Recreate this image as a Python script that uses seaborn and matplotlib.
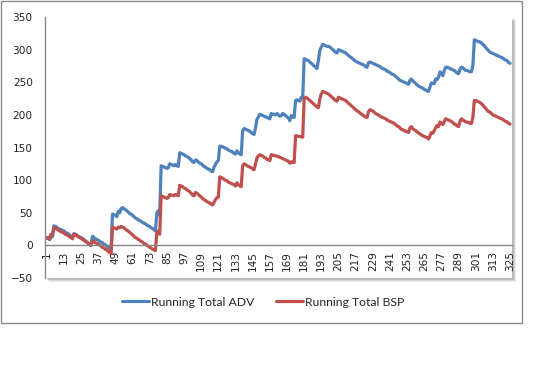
import matplotlib
matplotlib.use('Agg')
import matplotlib.pyplot as plt
from matplotlib.patches import Rectangle
import seaborn as sns
import pandas as pd

# running totals, one value per race (1..325)
adv_total = [
    12, 11, 9, 15, 13, 30, 29, 28, 26, 25, 24, 23, 22, 20, 19, 18, 16, 14, 12, 18,
    17, 16, 14, 13, 12, 10, 9, 7, 5, 3, 1, 0, 14, 12, 10, 9, 8, 6, 5, 4,
    2, 1, -1, -3, -5, -6,
    48, 47, 46, 44, 52, 50, 56, 58, 56, 55, 53, 51, 49, 48, 46, 44, 42, 41, 39, 38,
    37, 35, 34, 33, 31, 30, 29, 27, 26, 24, 22, 50, 53, 46, 122,
    121, 120, 119, 118, 119, 125, 124, 123, 122, 124, 122, 121, 142, 141, 140, 139, 137, 136, 135, 133,
    131, 128, 127, 131, 130, 128, 126, 125, 123, 121, 120, 118, 117, 116, 114, 113, 120, 124, 128, 130,
    152, 152, 151, 150, 149, 148, 146, 145, 144, 143, 141, 140, 145, 142, 140, 139, 176, 179, 178, 177,
    176, 175, 173, 171, 170, 180, 193, 197, 201, 200, 199, 198, 197, 196, 195, 194, 202, 201, 201, 200,
    202, 200, 198, 199, 202, 201, 199, 197, 195, 191, 199, 197, 196, 222, 223, 222, 221, 227, 226,
    286, 285, 284, 283, 281, 279, 277, 275, 273, 271, 284, 299, 304, 308, 307, 306, 305, 305, 304, 302,
    300, 298, 296, 295, 300, 299, 298, 297, 296, 295, 293, 291, 289, 288, 286, 284, 282, 281, 280, 279,
    278, 277, 276, 274, 273, 280, 281, 280, 279, 278, 277, 276, 275, 274, 272, 271, 270, 269, 267, 266,
    265, 263, 262, 261, 259, 257, 255, 253, 252, 251, 250, 249, 248, 247, 253, 255, 252, 250, 248, 246,
    244, 243, 242, 241, 239, 238, 237, 236, 243, 249, 248, 248, 255, 254, 258, 266, 263, 260, 268, 273,
    273, 272, 271, 270, 269, 268, 266, 264, 263, 270, 273, 272, 270, 268, 268, 267, 266, 266, 276, 315,
    314, 313, 312, 312, 310, 308, 306, 303, 301, 298, 296, 295, 294, 293, 292, 291, 290, 289, 288, 287,
    285, 284, 283, 280, 279,
]

bsp_total = [
    11, 12, 9, 17, 16, 27, 26, 25, 24, 22, 21, 20, 19, 17, 16, 15, 13, 12, 10, 17,
    16, 15, 13, 12, 11, 9, 8, 6, 5, 3, 1, 0, 7, 6, 4, 3, 2, 0, -1, -3,
    -4, -6, -7, -9, -11, -13,
    28, 27, 26, 25, 28, 27, 29, 28, 27, 25, 23, 22, 20, 18, 16, 14, 12, 11, 9, 8,
    6, 5, 3, 2, 0, -1, -3, -4, -6, -7, -8, 20, 22, 17, 76,
    75, 74, 73, 72, 73, 78, 77, 77, 76, 78, 77, 76, 92, 91, 90, 88, 87, 85, 84, 82,
    80, 77, 76, 81, 80, 78, 76, 74, 72, 70, 69, 67, 66, 65, 63, 62, 66, 70, 73, 74,
    105, 104, 103, 101, 100, 99, 97, 96, 95, 94, 93, 91, 96, 93, 91, 90, 122, 125, 124, 122,
    121, 120, 119, 117, 116, 125, 134, 137, 139, 138, 137, 135, 134, 132, 131, 130, 139, 138, 138, 137,
    137, 136, 135, 134, 133, 132, 131, 130, 129, 126, 128, 127, 127, 168, 168, 167, 167, 166, 166,
    225, 227, 226, 224, 222, 220, 218, 216, 214, 212, 211, 225, 232, 236, 235, 234, 233, 232, 230, 228,
    226, 224, 222, 221, 227, 226, 225, 224, 223, 222, 220, 218, 216, 214, 212, 210, 208, 206, 205, 203,
    201, 200, 198, 197, 196, 205, 208, 207, 206, 204, 202, 201, 200, 198, 197, 196, 195, 194, 192, 191,
    190, 189, 188, 187, 185, 183, 182, 180, 178, 177, 176, 175, 174, 173, 180, 182, 179, 177, 176, 174,
    172, 171, 169, 168, 167, 166, 165, 163, 168, 173, 172, 176, 180, 184, 182, 189, 187, 185, 190, 194,
    193, 192, 191, 190, 188, 186, 185, 183, 182, 190, 194, 192, 191, 189, 189, 188, 187, 187, 196, 222,
    222, 221, 220, 219, 217, 215, 212, 210, 207, 205, 204, 202, 200, 199, 198, 197, 196, 195, 194, 193,
    191, 190, 189, 187, 186,
]

series_names = ['Running Total ADV', 'Running Total BSP']
series_colors = ['#4F81BD', '#C0504D']
y_ticks = [-50, 0, 50, 100, 150, 200, 250, 300, 350]

races = list(range(1, len(adv_total) + 1))
df = pd.DataFrame({
    'race': races * 2,
    'total': adv_total + bsp_total,
    'series': [series_names[0]] * len(adv_total) + [series_names[1]] * len(bsp_total),
})

sns.set_style('white')
plt.rcParams['font.family'] = ['DejaVu Sans']

W, H = 533, 384
fig = plt.figure(figsize=(W / 100, H / 100), dpi=100)

# plot area in pixels
px_l, px_r, px_t, px_b = 45.3, 511.5, 17, 278
ax = fig.add_axes([px_l / W, 1 - px_b / H, (px_r - px_l) / W, (px_b - px_t) / H])
ax.set_zorder(2)
ax.set_facecolor('white')

# soft shadow of plot area (offset down-right)
for off, a in [(4, 0.10), (3, 0.15), (2, 0.22)]:
    fig.add_artist(Rectangle(((px_l + off) / W, 1 - (px_b + off) / H),
                             (px_r - px_l) / W, (px_b - px_t) / H,
                             transform=fig.transFigure, facecolor='#555555',
                             edgecolor='none', alpha=a, zorder=1))

# outer chart border
fig.add_artist(Rectangle((1 / W, 1 - 323 / H), 521 / W, 322 / H,
                         transform=fig.transFigure, fill=False,
                         edgecolor='#8c8c8c', linewidth=1.0, zorder=0))

sns.lineplot(data=df, x='race', y='total', hue='series', hue_order=series_names,
             palette=series_colors, linewidth=2.3, ax=ax)

for s in ['top', 'right']:
    ax.spines[s].set_visible(False)
ax.spines['left'].set_color('#868686')
ax.spines['left'].set_linewidth(1.0)
ax.spines['bottom'].set_position(('data', 0))
ax.spines['bottom'].set_color('#868686')
ax.spines['bottom'].set_linewidth(1.0)

ax.set_xlim(0, 326)
ax.set_ylim(-50, 350)
ax.set_yticks(y_ticks)
ax.set_xticks(races[::12])
ax.set_xticklabels([str(r) for r in races[::12]])
ax.set_xlabel('')
ax.set_ylabel('')
ax.tick_params(axis='y', length=0, pad=9, labelsize=7.6, labelcolor='#222222')
ax.tick_params(axis='x', length=0, pad=4, labelsize=7.6, labelcolor='#222222',
               labelrotation=90)

handles, labels = ax.get_legend_handles_labels()
ax.get_legend().remove()
fig.legend(handles, labels, loc='center', bbox_to_anchor=(263 / W, 1 - 302 / H),
           ncol=2, frameon=False, handlelength=2.2, handletextpad=0.15,
           columnspacing=1.8, prop={'family': 'Lato', 'size': 8.8})

fig.savefig('out.png', dpi=100)
